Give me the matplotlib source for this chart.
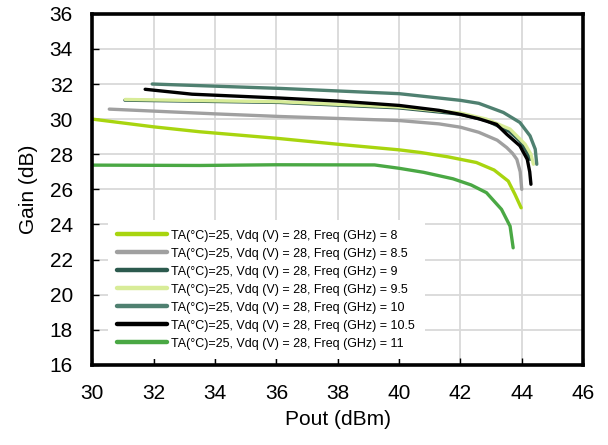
import numpy as np
import matplotlib
matplotlib.use("Agg")
import matplotlib.pyplot as plt

plt.rcParams["font.family"] = ["Liberation Sans", "DejaVu Sans"]

# Pout (dBm) / Gain (dB), one pair of arrays per frequency
pout_8 = [30.0, 32.0, 33.5, 36.0, 38.0, 40.0, 40.7, 41.6, 42.52, 43.1, 43.56, 43.78, 43.98]
gain_8 = [30.0, 29.56, 29.28, 28.91, 28.57, 28.25, 28.1, 27.85, 27.53, 27.1, 26.47, 25.71, 24.95]

pout_85 = [30.55, 34.0, 36.12, 40.0, 41.3, 42.0, 42.6, 43.2, 43.51, 43.7, 43.84, 43.95, 44.0]
gain_85 = [30.57, 30.3, 30.15, 29.92, 29.73, 29.54, 29.25, 28.8, 28.38, 28.05, 27.71, 27.0, 26.0]

pout_9 = [31.06, 36.1, 40.0, 42.0, 42.85, 43.6, 43.94, 44.15, 44.27]
gain_9 = [31.08, 30.95, 30.64, 30.28, 29.92, 29.3, 28.76, 28.2, 27.71]

pout_95 = [31.07, 36.12, 40.0, 42.0, 42.85, 43.62, 44.11, 44.3, 44.38]
gain_95 = [31.12, 30.99, 30.69, 30.35, 30.0, 29.43, 28.57, 28.0, 27.43]

pout_10 = [31.95, 36.12, 40.0, 42.0, 42.6, 43.4, 43.94, 44.27, 44.44, 44.49]
gain_10 = [32.0, 31.75, 31.45, 31.07, 30.9, 30.38, 29.81, 29.05, 28.29, 27.43]

pout_105 = [31.72, 33.25, 36.12, 38.0, 40.0, 41.3, 42.0, 42.6, 43.18, 43.51, 43.94, 44.18, 44.26, 44.3]
gain_105 = [31.7, 31.42, 31.2, 31.03, 30.78, 30.5, 30.27, 30.02, 29.7, 29.14, 28.48, 27.71, 27.0, 26.29]

pout_11 = [30.0, 33.5, 36.0, 39.2, 40.0, 40.8, 41.76, 42.35, 42.85, 43.34, 43.62, 43.72]
gain_11 = [27.38, 27.36, 27.4, 27.39, 27.2, 26.97, 26.6, 26.25, 25.81, 24.86, 23.9, 22.67]

freqs = ["8", "8.5", "9", "9.5", "10", "10.5", "11"]
colors = ["#a8d50f", "#a0a0a0", "#2c5a4e", "#d8ec98", "#4f8070", "#000000", "#4aa844"]

series = [
    (pout_8, gain_8),
    (pout_85, gain_85),
    (pout_9, gain_9),
    (pout_95, gain_95),
    (pout_10, gain_10),
    (pout_105, gain_105),
    (pout_11, gain_11),
]

fig = plt.figure(figsize=(6.08, 4.45), dpi=100)
ax = fig.add_axes([0.152, 0.180, 0.807, 0.789])

for (x, y), f, c in zip(series, freqs, colors):
    ax.plot(x, y, color=c, lw=2.4, solid_capstyle="round", solid_joinstyle="round",
            label=f"TA(°C)=25, Vdq (V) = 28, Freq (GHz) = {f}")

ax.set_xlim(30, 46)
ax.set_ylim(16, 36)
ax.set_xticks(np.arange(30, 47, 2))
ax.set_yticks(np.arange(16, 37, 2))
ax.grid(True, color="#d9d9d9", lw=1.3)
ax.set_axisbelow(True)

for sp in ax.spines.values():
    sp.set_linewidth(2.6)
    sp.set_color("black")

ax.tick_params(direction="in", length=5, width=1, labelsize=15, pad=14)
ax.set_xlabel("Pout (dBm)", fontsize=15, labelpad=5)
ax.set_ylabel("Gain (dB)", fontsize=15, labelpad=8)

leg = ax.legend(loc="lower left", bbox_to_anchor=(0.032, 0.017), fontsize=9,
                handlelength=4.0, handletextpad=0.32, labelspacing=0.48,
                frameon=True, facecolor="white", edgecolor="none",
                framealpha=1, borderpad=0.75, borderaxespad=0.0)
for line in leg.get_lines():
    line.set_linewidth(3.2)

fig.savefig("out.png", dpi=100)
